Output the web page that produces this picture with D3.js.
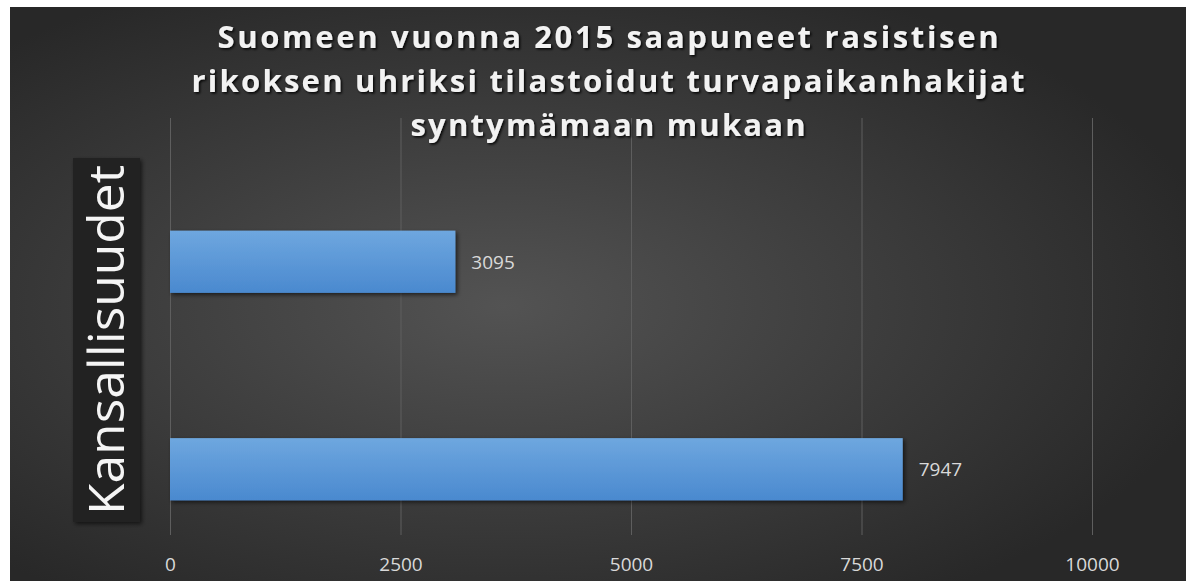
<!DOCTYPE html>
<html>
<head>
<meta charset="utf-8">
<script src="https://cdnjs.cloudflare.com/ajax/libs/d3/7.8.5/d3.min.js"></script>
<style>
  html, body { margin: 0; padding: 0; background: #fff; }
  svg { display: block; }
</style>
</head>
<body>
<svg width="1186" height="581"></svg>
<script>
// data
var categories = ["A", "B"]
var values = [3095, 7947]
var tickValues = [0, 2500, 5000, 7500, 10000]
var titleLines = [
    "Suomeen vuonna 2015 saapuneet rasistisen",
    "rikoksen uhriksi tilastoidut turvapaikanhakijat",
    "syntymämaan mukaan"
]
var axisTitle = "Kansallisuudet"

var svg = d3.select("svg"),
    width = +svg.attr("width"),
    height = +svg.attr("height");

var defs = svg.append("defs")

var bg = defs.append("radialGradient")
    .attr("id", "bg")
    .attr("cx", "42%").attr("cy", "52%").attr("r", "62%")
bg.append("stop").attr("offset", "0%").attr("stop-color", "#535353")
bg.append("stop").attr("offset", "100%").attr("stop-color", "#282828")

var barGrad = defs.append("linearGradient")
    .attr("id", "barGrad")
    .attr("x1", 0).attr("y1", 0).attr("x2", 0).attr("y2", 1)
barGrad.append("stop").attr("offset", "0%").attr("stop-color", "#6ea7df")
barGrad.append("stop").attr("offset", "100%").attr("stop-color", "#4a89cf")

var shadow = defs.append("filter").attr("id", "shadow")
    .attr("x", "-10%").attr("y", "-10%").attr("width", "130%").attr("height", "130%")
shadow.append("feDropShadow")
    .attr("dx", 2).attr("dy", 2).attr("stdDeviation", 2)
    .attr("flood-color", "#000").attr("flood-opacity", 0.6)

var textShadow = defs.append("filter").attr("id", "textShadow")
    .attr("x", "-5%").attr("y", "-20%").attr("width", "110%").attr("height", "150%")
textShadow.append("feDropShadow")
    .attr("dx", 1.5).attr("dy", 1.5).attr("stdDeviation", 1.2)
    .attr("flood-color", "#000").attr("flood-opacity", 0.9)

// background
svg.append("rect")
    .attr("x", 10).attr("y", 7)
    .attr("width", width - 10).attr("height", height - 7)
    .attr("fill", "url(#bg)")

// scales
var x = d3.scaleLinear()
    .domain([0, 10000])
    .range([170, 1092])

var y = d3.scaleBand()
    .domain(categories)
    .range([158, 573])
    .paddingInner(0.7)
    .paddingOuter(0.35)

// gridlines
svg.append("g")
    .selectAll("line")
    .data(tickValues)
    .enter().append("line")
    .attr("x1", function(d) { return x(d) + 0.5 })
    .attr("x2", function(d) { return x(d) + 0.5 })
    .attr("y1", 118)
    .attr("y2", 535)
    .attr("stroke", "#5e5e5e")
    .attr("stroke-width", 1)

// x axis labels
var xAxis = d3.axisBottom(x)
    .tickValues(tickValues)
    .tickSize(0)
    .tickPadding(0)
    .tickFormat(d3.format("d"))

var gx = svg.append("g")
    .attr("transform", "translate(0,557)")
    .call(xAxis)
gx.select(".domain").remove()
gx.selectAll("text")
    .attr("fill", "#d9d9d9")
    .style("font-family", "'Open Sans', sans-serif")
    .style("font-size", "19px")

// bars
svg.append("g")
    .selectAll("rect")
    .data(values)
    .enter().append("rect")
    .attr("x", x(0))
    .attr("y", function(d, i) { return y(categories[i]) })
    .attr("width", function(d) { return x(d) - x(0) })
    .attr("height", y.bandwidth())
    .attr("fill", "url(#barGrad)")
    .attr("filter", "url(#shadow)")

// data labels
svg.append("g")
    .selectAll("text")
    .data(values)
    .enter().append("text")
    .attr("x", function(d) { return x(d) + 16 })
    .attr("y", function(d, i) { return y(categories[i]) + y.bandwidth() / 2 + 7 })
    .attr("fill", "#d9d9d9")
    .style("font-family", "'Open Sans', sans-serif")
    .style("font-size", "19px")
    .text(function(d) { return d })

// title
svg.append("g")
    .selectAll("text")
    .data(titleLines)
    .enter().append("text")
    .attr("x", 608)
    .attr("y", function(d, i) { return 48 + i * 44 })
    .attr("text-anchor", "middle")
    .attr("fill", "#f2f2f2")
    .attr("filter", "url(#textShadow)")
    .attr("textLength", function(d, i) { return [781, 833, 395][i] })
    .attr("lengthAdjust", "spacing")
    .style("font-family", "'Open Sans', sans-serif")
    .style("font-weight", "bold")
    .style("font-size", "31px")
    .text(function(d) { return d })

// y axis title box
svg.append("rect")
    .attr("x", 73).attr("y", 158)
    .attr("width", 67).attr("height", 364)
    .attr("fill", "#242424")
    .attr("filter", "url(#shadow)")

svg.append("text")
    .attr("transform", "translate(124,340) rotate(-90)")
    .attr("text-anchor", "middle")
    .attr("fill", "#f5f5f5")
    .attr("textLength", 350)
    .attr("lengthAdjust", "spacingAndGlyphs")
    .style("font-family", "'Open Sans', sans-serif")
    .style("font-size", "50px")
    .text(axisTitle)
</script>
</body>
</html>
